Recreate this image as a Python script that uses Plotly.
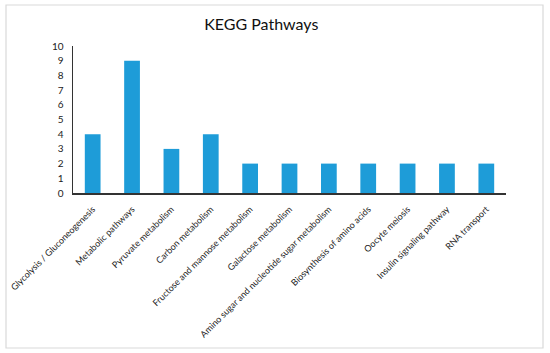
import plotly.graph_objects as go

categories = ["Glycolysis / Gluconeogenesis", "Metabolic pathways", "Pyruvate metabolism",
              "Carbon metabolism", "Fructose and mannose metabolism", "Galactose metabolism",
              "Amino sugar and nucleotide sugar metabolism", "Biosynthesis of amino acids",
              "Oocyte meiosis", "Insulin signaling pathway", "RNA transport"]
values = [4, 9, 3, 4, 2, 2, 2, 2, 2, 2, 2]
y_ticks = list(range(0, 11))

W, H = 550, 353
L, R, T, B = 73, 44, 46, 160
pw, ph = W - L - R, H - T - B

fig = go.Figure(go.Bar(x=categories, y=values, marker_color="#1E9CD8", marker_line_width=0,
                       hoverinfo="skip"))

fig.update_layout(
    width=W, height=H,
    margin=dict(l=L, r=R, t=T, b=B, autoexpand=False),
    paper_bgcolor="white", plot_bgcolor="white",
    bargap=0.6,
    showlegend=False,
    font=dict(family="Lato", color="#222222"),
    title=dict(text="KEGG Pathways", x=0.475, xanchor="center", y=1 - 24 / H, yanchor="middle",
               font=dict(size=16, family="Lato", color="#111111")),
    xaxis=dict(tickangle=-45, tickfont=dict(size=9, family="Lato", color="#222222"),
               showline=True, linecolor="#333333", linewidth=1.5, ticks="", showgrid=False,
               automargin=False, fixedrange=True, ticklabelstandoff=6),
    yaxis=dict(range=[0, 10], tickvals=y_ticks, tickfont=dict(size=10, family="Lato", color="#222222"),
               showline=True, linecolor="#333333", linewidth=1.5, ticks="", showgrid=False,
               zeroline=False, ticklabelstandoff=6, automargin=False, fixedrange=True),
)

fig.add_shape(type="rect", xref="paper", yref="paper",
              x0=(6 - L) / pw, x1=(543 - L) / pw,
              y0=(H - B - 348) / ph, y1=(H - B - 5) / ph,
              line=dict(color="#d9d9d9", width=1.2), fillcolor="rgba(0,0,0,0)", layer="below")

fig.write_html("out.html", config={"displayModeBar": False, "staticPlot": True},
               post_script="document.body.style.margin='0';document.body.style.overflow='hidden';")
